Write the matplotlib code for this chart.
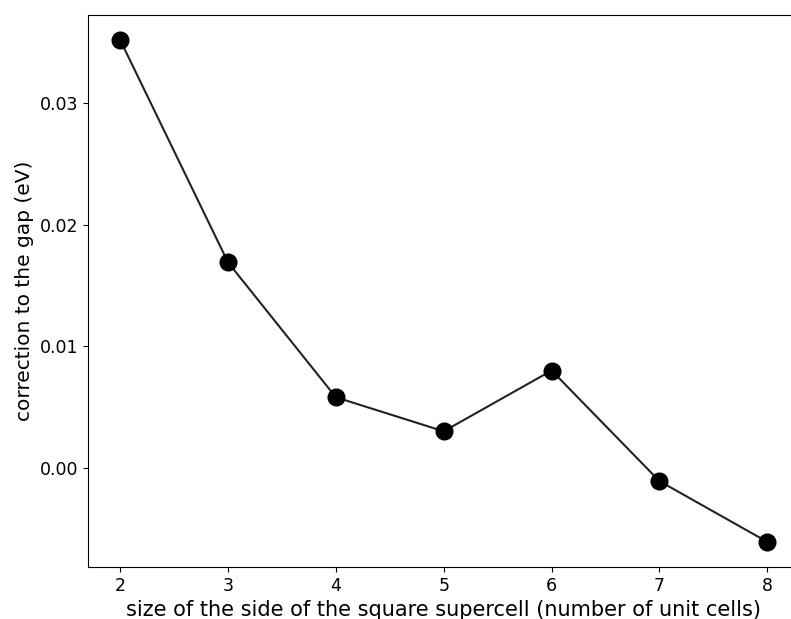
import matplotlib
matplotlib.use("Agg")
import matplotlib.pyplot as plt

sizes = [2, 3, 4, 5, 6, 7, 8]
correction = [0.0352, 0.0169, 0.0058, 0.0030, 0.0080, -0.0011, -0.0061]

fig = plt.figure(figsize=(7.91, 6.19), dpi=100)
# right spine falls just outside the picture, as in the reference
ax = fig.add_axes([0.111, 0.084, 0.9, 0.892])

ax.plot(sizes, correction, "-", marker="o", markersize=12, color="#222222",
        markerfacecolor="black", markeredgecolor="black")

ax.set_yticks([0.0, 0.01, 0.02, 0.03])
ax.set_yticklabels(["0.00", "0.01", "0.02", "0.03"])
ax.tick_params(labelsize=12.5)
ax.set_xlabel("size of the side of the square supercell (number of unit cells)", fontsize=15)
ax.set_ylabel("correction to the gap (eV)", fontsize=14.5)

fig.savefig("out.png", dpi=100)
